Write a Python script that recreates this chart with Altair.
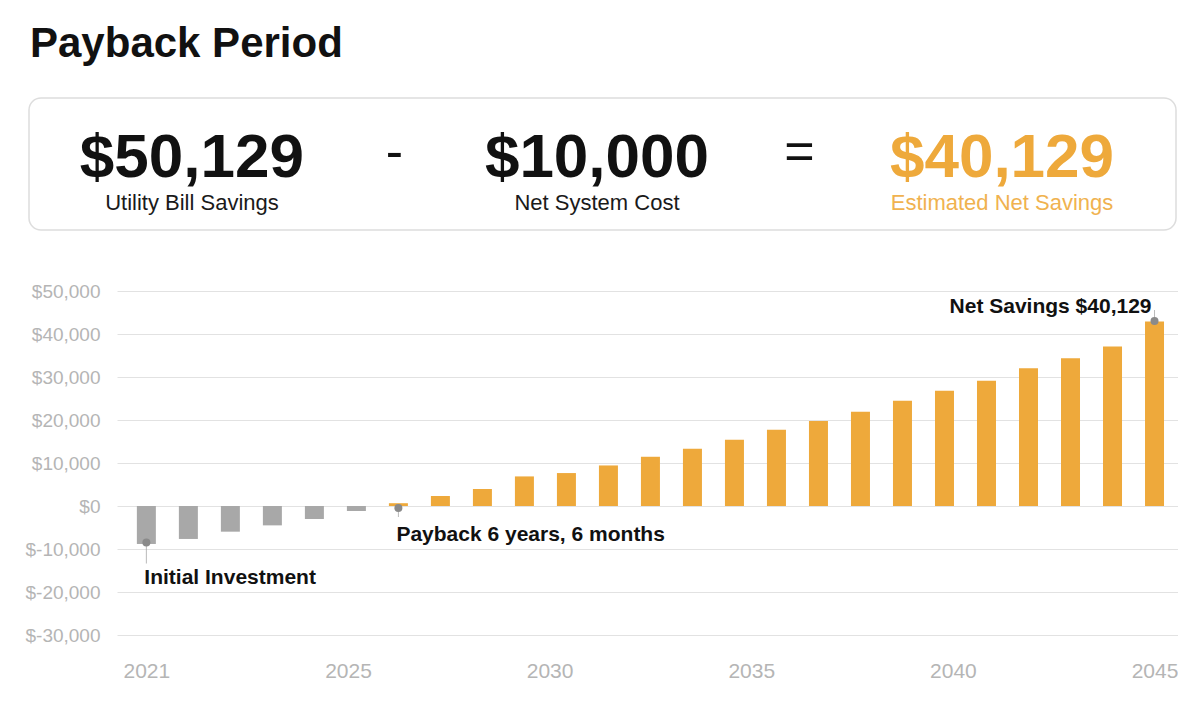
import altair as alt
import pandas as pd

# ---------------- data ----------------
years = [2021, 2022, 2023, 2024, 2025, 2026, 2027, 2028, 2029, 2030, 2031, 2032, 2033,
         2034, 2035, 2036, 2037, 2038, 2039, 2040, 2041, 2042, 2043, 2044, 2045]
net_cash = [-8830, -7665, -5970, -4505, -3020, -1160, 650, 2320, 3950, 6880, 7660, 9430,
            11450, 13310, 15400, 17720, 19740, 21900, 24460, 26780, 29100, 32060, 34380,
            37080, 42880]

y_ticks = [-30000, -20000, -10000, 0, 10000, 20000, 30000, 40000, 50000]
x_tick_values = [2021, 2025.8, 2030.6, 2035.4, 2040.2, 2045]

header_values = ["$50,129", "$10,000", "$40,129"]
header_labels = ["Utility Bill Savings", "Net System Cost", "Estimated Net Savings"]
header_kinds = ["base", "base", "net"]
header_slots = [0, 2, 4]
header_ops = ["-", "="]
op_slots = [1, 3]

ann_years = [2021, 2027, 2045]
ann_values = [-8500, -450, 43000]
ann_texts = ["Initial Investment", "Payback 6 years, 6 months", "Net Savings $40,129"]

# ---------------- styles ----------------
ORANGE = "#EEA93B"
ORANGE_LIGHT = "#F0B24F"
GRAY_BAR = "#A8A8A8"
INK = "#111111"
AXIS_LABEL = "#B5B5B5"
GRID = "#E2E2E2"
PLOT_W, PLOT_H = 1061, 344

ann_styles = [
    dict(stem=21, stem_off=10.5, align="left", dx=-2, dy=41),
    dict(stem=9, stem_off=4.5, align="left", dx=-2, dy=33),
    dict(stem=11, stem_off=-5.5, align="right", dx=-3, dy=-8),
]

# ---------------- header ----------------
nums_df = pd.DataFrame({"slot": header_slots, "value": header_values,
                        "label": header_labels, "kind": header_kinds})
ops_df = pd.DataFrame({"slot": op_slots, "op": header_ops})

xh = alt.X("slot:Q", scale=alt.Scale(domain=[-0.370, 4.869], nice=False, zero=False), axis=None)

# decorative rounded box behind the summary figures
box = alt.Chart(ops_df.head(1)).mark_rect(
    fill="white", stroke="#DDDDDD", strokeWidth=1.5, cornerRadius=12
).encode(x=alt.value(-88), x2=alt.value(1059), y=alt.value(0), y2=alt.value(132))

nums = alt.Chart(nums_df).mark_text(
    font="Liberation Sans", fontSize=62, fontWeight="bold",
    baseline="alphabetic", align="center"
).encode(
    x=xh, y=alt.value(79), text="value:N",
    color=alt.condition("datum.kind == 'net'", alt.value(ORANGE), alt.value(INK)),
)

subs = alt.Chart(nums_df).mark_text(
    font="Liberation Sans", fontSize=22, baseline="alphabetic", align="center"
).encode(
    x=xh, y=alt.value(112), text="label:N",
    color=alt.condition("datum.kind == 'net'", alt.value(ORANGE_LIGHT), alt.value("#1a1a1a")),
)

ops = alt.Chart(ops_df).mark_text(
    font="Liberation Sans", fontSize=52, baseline="middle", align="center", color=INK
).encode(x=xh, y=alt.value(55), text="op:N")

header = alt.layer(box, nums, subs, ops).properties(width=PLOT_W, height=132)

# ---------------- bar chart ----------------
df = pd.DataFrame({"year": years, "value": net_cash})
ann_df = pd.DataFrame({"year": ann_years, "value": ann_values, "text": ann_texts,
                       "idx": list(range(len(ann_years)))})

x = alt.X("year:Q",
          scale=alt.Scale(domain=[2020.42, 2045.44], nice=False, zero=False),
          axis=alt.Axis(values=x_tick_values, labelExpr="toString(floor(datum.value))",
                        grid=False, domain=False, ticks=False, labelFontSize=21,
                        labelColor=AXIS_LABEL, labelPadding=25, labelFlush=False,
                        title=None, labelFont="Liberation Sans"))
y = alt.Y("value:Q",
          scale=alt.Scale(domain=[-30000, 50000], nice=False),
          axis=alt.Axis(values=y_ticks,
                        labelExpr="'$' + (datum.value < 0 ? '-' : '') + format(abs(datum.value), ',')",
                        grid=True, gridColor=GRID, gridWidth=1, domain=False, ticks=False,
                        labelFontSize=19, labelColor=AXIS_LABEL, labelPadding=17,
                        title=None, labelFont="Liberation Sans"))

bars = alt.Chart(df).mark_bar(size=19).encode(
    x=x, y=y,
    color=alt.condition("datum.value > 0", alt.value(ORANGE), alt.value(GRAY_BAR)),
)

layers = [bars]
for i, st in enumerate(ann_styles):
    sub = alt.Chart(ann_df).transform_filter(f"datum.idx == {i}")
    stem = sub.mark_tick(orient="vertical", size=st["stem"], thickness=1,
                         color="#9C9C9C", yOffset=st["stem_off"]).encode(x=x, y=y)
    dot = sub.mark_circle(size=64, color="#8A8A8A", opacity=1).encode(x=x, y=y)
    txt = sub.mark_text(align=st["align"], baseline="alphabetic", dx=st["dx"], dy=st["dy"],
                        fontSize=21, fontWeight="bold", color=INK,
                        font="Liberation Sans").encode(x=x, y=y, text="text:N")
    layers += [stem, dot, txt]

bar_chart = alt.layer(*layers).properties(width=PLOT_W, height=PLOT_H)

chart = alt.vconcat(header, bar_chart, spacing=51).properties(
    title=alt.Title("Payback Period", anchor="start", fontSize=42, font="Liberation Sans",
                    fontWeight="bold", color=INK, offset=31, dx=5),
    padding={"left": 16, "top": 15, "right": 0, "bottom": 0},
).configure(font="Liberation Sans").configure_view(strokeWidth=0, stroke="transparent")

chart.save("out.html", embed_options={"renderer": "svg", "actions": False})
